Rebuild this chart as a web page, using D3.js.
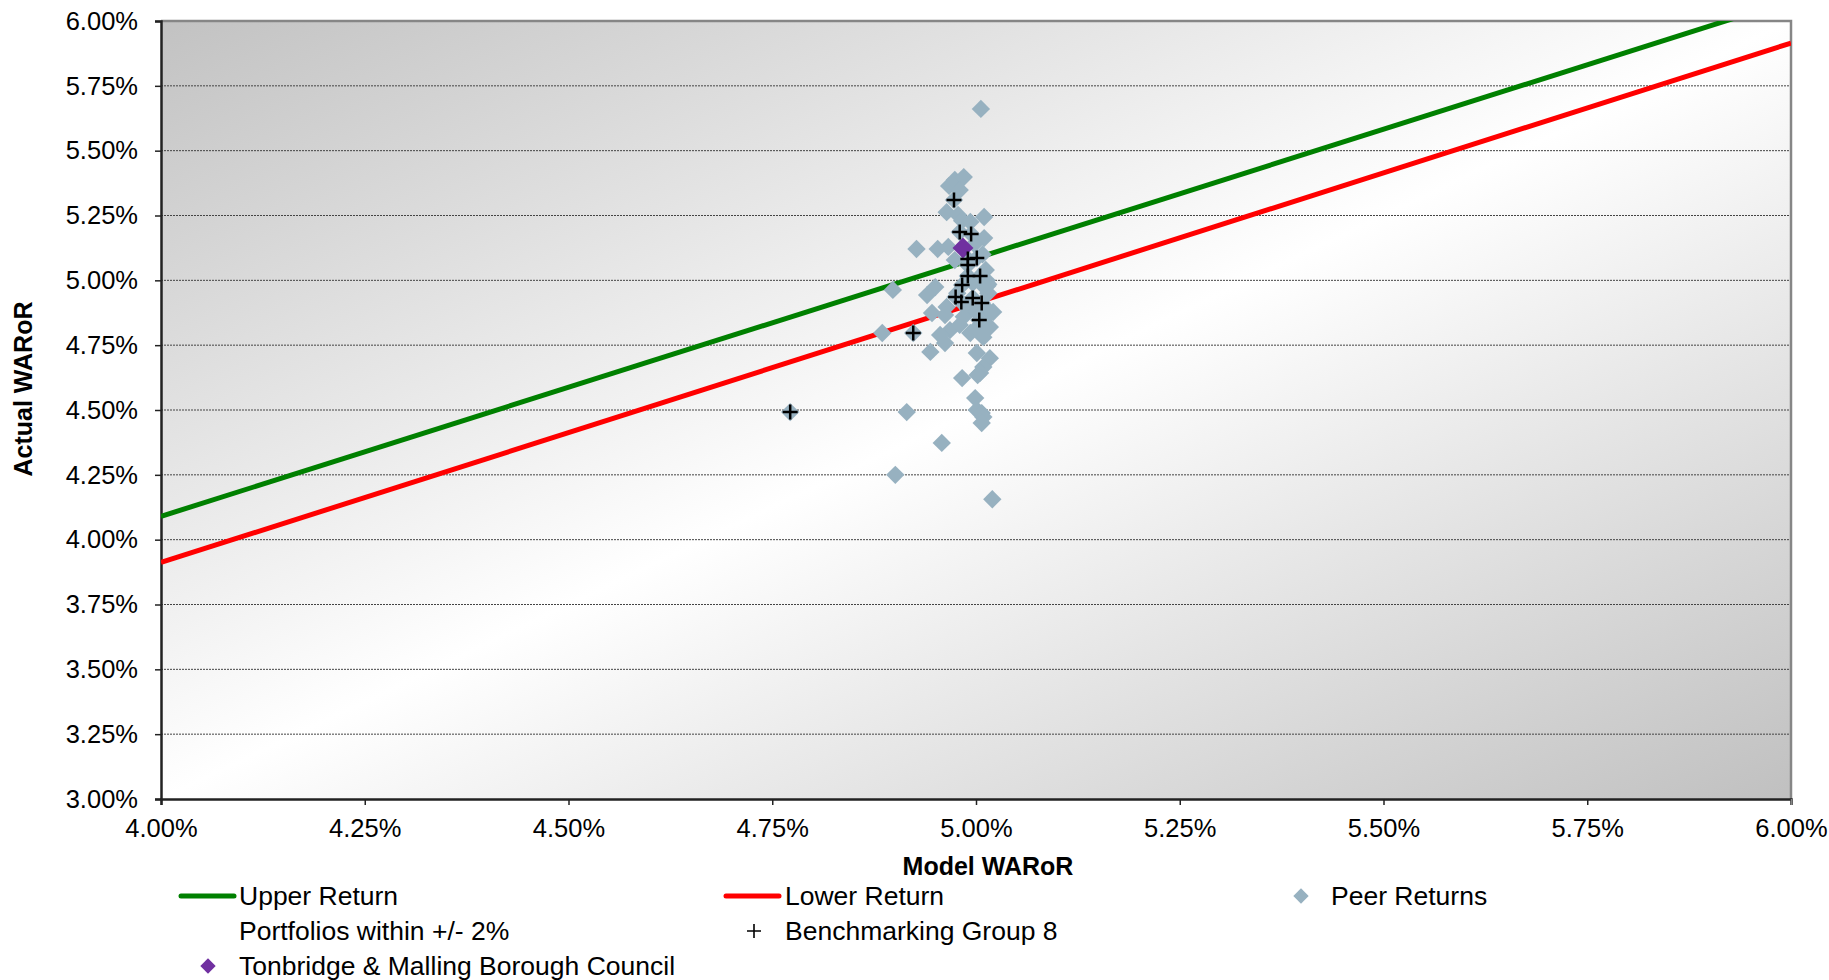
<!DOCTYPE html>
<html>
<head>
<meta charset="utf-8">
<script src="https://cdn.jsdelivr.net/npm/d3@7"></script>
<style>
  body { margin: 0; background: #fff; overflow: hidden; }
  text { font-family: 'Liberation Sans', Arial, sans-serif; fill: #000; }
</style>
</head>
<body>
<div id="chart"></div>
<script>
const xTicks = [4.0, 4.25, 4.5, 4.75, 5.0, 5.25, 5.5, 5.75, 6.0]
const yTicks = [3.0, 3.25, 3.5, 3.75, 4.0, 4.25, 4.5, 4.75, 5.0, 5.25, 5.5, 5.75, 6.0]

// band lines, endpoints
const upperX = [4.0, 6.0]
const upperY = [4.09, 6.08]
const lowerX = [4.0, 6.0]
const lowerY = [3.912, 5.915]

// peer returns (model, actual)
const peerX = [5.006, 4.927, 4.898, 4.885, 4.915, 4.901, 4.958, 5.020, 4.772, 4.923,
  4.950, 4.940, 4.946, 4.964, 4.962, 4.968, 4.956, 4.962, 4.944, 4.980,
  4.993, 5.001, 5.009, 5.017, 5.017, 5.021, 5.001, 5.017, 5.009, 5.005,
  5.002, 4.983, 4.999, 5.001, 5.007, 5.009, 5.007, 4.967, 4.974, 4.985,
  4.980, 4.973, 4.964, 4.978, 5.010, 4.983, 4.993, 4.980, 4.994, 4.953,
  4.966, 5.010, 4.998, 4.974, 4.990, 5.001, 5.008, 4.990, 4.990, 5.005,
  5.012, 5.013, 4.983, 4.996, 5.010, 5.015, 4.975, 4.982, 4.996, 5.007,
  5.015, 4.990, 5.004, 5.010, 4.985, 5.000, 4.977, 5.014]
const peerY = [5.661, 5.121, 4.963, 4.797, 4.492, 4.250, 4.373, 4.156, 4.492, 4.797,
  4.974, 4.943, 4.874, 4.897, 4.866, 4.808, 4.789, 4.758, 4.724, 4.828,
  4.797, 4.816, 4.781, 4.820, 4.874, 4.878, 4.720, 4.700, 4.666, 4.643,
  4.635, 4.623, 4.546, 4.500, 4.488, 4.473, 4.450, 5.364, 5.387, 5.398,
  5.348, 5.310, 5.263, 5.252, 5.244, 5.230, 5.225, 5.186, 5.179, 5.121,
  5.129, 5.163, 5.140, 5.078, 5.082, 5.086, 5.100, 5.059, 5.017, 5.017,
  5.040, 5.000, 4.982, 4.990, 4.975, 4.985, 4.936, 4.916, 4.932, 4.913,
  4.950, 4.890, 4.847, 4.900, 4.860, 4.880, 4.950, 4.979]

// benchmarking group 8
const benchX = [4.973, 4.980, 4.994, 4.990, 5.001, 4.990, 4.990, 5.005, 4.983, 4.975,
  4.982, 4.996, 5.007, 5.004, 4.923, 4.772]
const benchY = [5.310, 5.186, 5.179, 5.082, 5.086, 5.059, 5.017, 5.017, 4.982, 4.936,
  4.916, 4.932, 4.913, 4.847, 4.797, 4.492]

// Tonbridge & Malling Borough Council
const ownX = [4.984]
const ownY = [5.125]

const cPeer = '#97b1c0'
const cOwn = '#7030a0'
const cUpper = '#008000'
const cLower = '#ff0000'

const W = 1829
const H = 980
const margin = { top: 21, right: 38, bottom: 181, left: 161 }

const svg = d3.select('#chart').append('svg')
  .attr('width', W)
  .attr('height', H)

const x = d3.scaleLinear().domain([4, 6]).range([margin.left, W - margin.right])
const y = d3.scaleLinear().domain([3, 6]).range([H - margin.bottom, margin.top])

const defs = svg.append('defs')
const grad = defs.append('linearGradient')
  .attr('id', 'bg')
  .attr('x1', 0).attr('y1', 0).attr('x2', 1).attr('y2', 1)
grad.append('stop').attr('offset', '0%').attr('stop-color', '#c2c2c2')
grad.append('stop').attr('offset', '50%').attr('stop-color', '#ffffff')
grad.append('stop').attr('offset', '100%').attr('stop-color', '#c0c0c0')

defs.append('clipPath').attr('id', 'clip')
  .append('rect')
  .attr('x', x(4)).attr('y', y(6))
  .attr('width', x(6) - x(4)).attr('height', y(3) - y(6))

svg.append('rect')
  .attr('x', x(4)).attr('y', y(6))
  .attr('width', x(6) - x(4)).attr('height', y(3) - y(6))
  .attr('fill', 'url(#bg)')

// grid
svg.append('g')
  .selectAll('line')
  .data(yTicks.filter(t => t > 3 && t < 6))
  .join('line')
  .attr('x1', x(4)).attr('x2', x(6))
  .attr('y1', d => y(d)).attr('y2', d => y(d))
  .attr('stroke', '#444')
  .attr('stroke-width', 1)
  .attr('stroke-dasharray', '2,1')

// top and right frame
svg.append('path')
  .attr('d', `M${x(4)},${y(6)}H${x(6)}V${y(3)}`)
  .attr('fill', 'none')
  .attr('stroke', '#868686')
  .attr('stroke-width', 2.5)

const fmt = d => d.toFixed(2) + '%'

const yAxis = svg.append('g')
  .attr('transform', `translate(${x(4)},0)`)
  .call(d3.axisLeft(y).tickValues(yTicks).tickFormat(fmt).tickSize(6).tickPadding(17))
const xAxis = svg.append('g')
  .attr('transform', `translate(0,${y(3)})`)
  .call(d3.axisBottom(x).tickValues(xTicks).tickFormat(fmt).tickSize(6).tickPadding(14))

;[yAxis, xAxis].forEach(g => {
  g.select('.domain').attr('stroke', '#222').attr('stroke-width', 2.5)
  g.selectAll('.tick line').attr('stroke', '#222').attr('stroke-width', 1.5)
  g.selectAll('.tick text')
    .style('font-family', "'Liberation Sans', Arial, sans-serif")
    .style('font-size', '25.5px')
    .attr('fill', '#000')
})
xAxis.selectAll('.tick').filter(d => d === 6).select('line').attr('stroke', '#868686')

// axis titles
svg.append('text')
  .attr('x', 988).attr('y', 875)
  .attr('text-anchor', 'middle')
  .style('font-size', '25px').style('font-weight', 'bold')
  .text('Model WARoR')

svg.append('text')
  .attr('transform', 'translate(32,389) rotate(-90)')
  .attr('text-anchor', 'middle')
  .style('font-size', '25px').style('font-weight', 'bold')
  .text('Actual WARoR')

const plot = svg.append('g').attr('clip-path', 'url(#clip)')

const line = d3.line().x(d => x(d[0])).y(d => y(d[1]))

plot.append('path')
  .datum(upperX.map((v, i) => [v, upperY[i]]))
  .attr('fill', 'none').attr('stroke', cUpper).attr('stroke-width', 5)
  .attr('d', line)

plot.append('path')
  .datum(lowerX.map((v, i) => [v, lowerY[i]]))
  .attr('fill', 'none').attr('stroke', cLower).attr('stroke-width', 5)
  .attr('d', line)

const diamond = d3.symbol().type(d3.symbolDiamond2)

plot.append('g')
  .selectAll('path')
  .data(peerX.map((v, i) => [v, peerY[i]]))
  .join('path')
  .attr('transform', d => `translate(${x(d[0])},${y(d[1])})`)
  .attr('d', diamond.size(215))
  .attr('fill', cPeer)

plot.append('g')
  .selectAll('path')
  .data(ownX.map((v, i) => [v, ownY[i]]))
  .join('path')
  .attr('transform', d => `translate(${x(d[0])},${y(d[1])})`)
  .attr('d', d3.symbol().type(d3.symbolDiamond2).size(280))
  .attr('fill', cOwn)

plot.append('g')
  .selectAll('path')
  .data(benchX.map((v, i) => [v, benchY[i]]))
  .join('path')
  .attr('transform', d => `translate(${x(d[0])},${y(d[1])})`)
  .attr('d', 'M-7.5,0H7.5M0,-7.5V7.5')
  .attr('stroke', '#000')
  .attr('stroke-width', 2.5)
  .attr('fill', 'none')

// legend
const legend = svg.append('g')
const items = [
  { kind: 'line', color: cUpper, label: 'Upper Return', sx: 181, tx: 239, ty: 896 },
  { kind: 'none', label: 'Portfolios within +/- 2%', sx: 181, tx: 239, ty: 931 },
  { kind: 'diamond', color: cOwn, label: 'Tonbridge & Malling Borough Council', sx: 208, tx: 239, ty: 966 },
  { kind: 'line', color: cLower, label: 'Lower Return', sx: 726, tx: 785, ty: 896 },
  { kind: 'plus', label: 'Benchmarking Group 8', sx: 754, tx: 785, ty: 931 },
  { kind: 'diamond', color: cPeer, label: 'Peer Returns', sx: 1301, tx: 1331, ty: 896 }
]

items.forEach(it => {
  if (it.kind === 'line') {
    legend.append('line')
      .attr('x1', it.sx).attr('x2', it.sx + 53)
      .attr('y1', it.ty).attr('y2', it.ty)
      .attr('stroke', it.color).attr('stroke-width', 5)
      .attr('stroke-linecap', 'round')
  } else if (it.kind === 'diamond') {
    legend.append('path')
      .attr('transform', `translate(${it.sx},${it.ty})`)
      .attr('d', d3.symbol().type(d3.symbolDiamond2).size(150))
      .attr('fill', it.color)
  } else if (it.kind === 'plus') {
    legend.append('path')
      .attr('transform', `translate(${it.sx},${it.ty})`)
      .attr('d', 'M-7,0H7M0,-7V7')
      .attr('stroke', '#000').attr('stroke-width', 1.6)
  }
  legend.append('text')
    .attr('x', it.tx).attr('y', it.ty + 9)
    .style('font-size', '26.5px')
    .text(it.label)
})
</script>
</body>
</html>
